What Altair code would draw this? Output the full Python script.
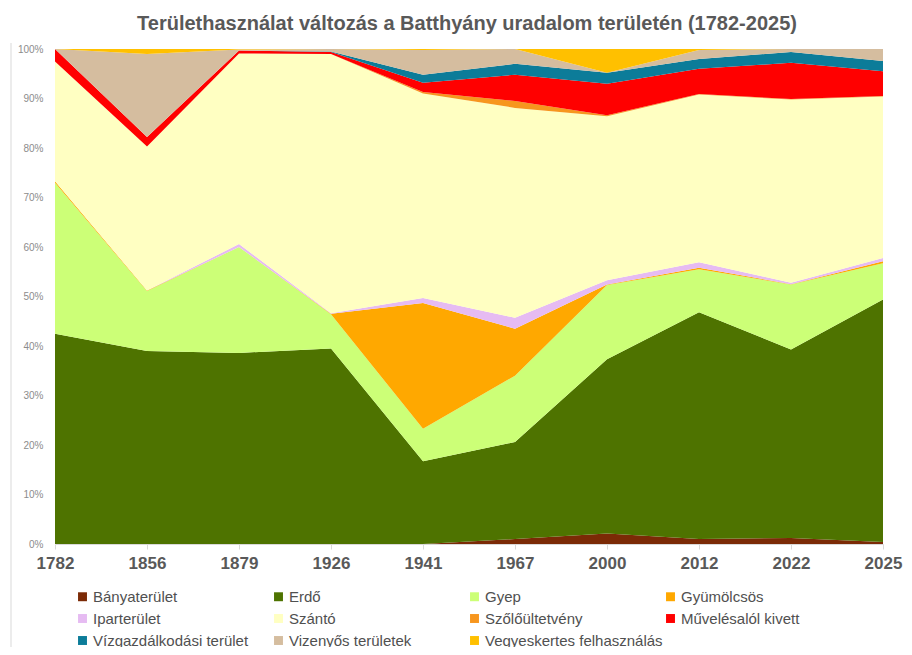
import altair as alt
import pandas as pd

years = ["1782", "1856", "1879", "1926", "1941", "1967", "2000", "2012", "2022", "2025"]

categories = [
    "Bányaterület", "Erdő", "Gyep", "Gyümölcsös",
    "Iparterület", "Szántó", "Szőlőültetvény", "Művelésalól kivett",
    "Vízgazdálkodási terület", "Vizenyős területek", "Vegyeskertes felhasználás",
]

banya = [0, 0, 0, 0, 0, 1.0, 2.1, 1.0, 1.2, 0.4]
erdo = [42.5, 39.0, 38.6, 39.5, 16.7, 19.6, 35.2, 45.8, 38.1, 49.0]
gyep = [30.5, 12.1, 21.4, 6.9, 6.6, 13.4, 15.0, 8.7, 13.1, 7.3]
gyumolcsos = [0.3, 0.1, 0, 0.1, 25.4, 9.5, 0.1, 0.3, 0.1, 0.4]
ipar = [0, 0, 0.6, 0.1, 1.0, 2.2, 0.9, 1.1, 0.3, 0.7]
szanto = [24.2, 29.1, 38.5, 52.4, 41.3, 42.4, 33.1, 33.9, 37.0, 32.6]
szolo = [0, 0, 0, 0, 0.3, 1.4, 0.2, 0.1, 0.1, 0.1]
muveles = [2.5, 1.9, 0.6, 0.4, 1.9, 5.3, 6.4, 5.1, 7.3, 5.0]
viz = [0, 0, 0, 0.1, 1.6, 2.2, 2.2, 2.0, 2.2, 2.1]
vizenyos = [0, 16.8, 0.2, 0.5, 5.0, 3.0, 0, 1.8, 0.6, 2.4]
vegyes = [0, 1.0, 0.1, 0, 0.2, 0, 4.8, 0.2, 0, 0]

series = [banya, erdo, gyep, gyumolcsos, ipar, szanto, szolo, muveles, viz, vizenyos, vegyes]

colors = [
    "#7B2A06", "#4E7300", "#CCFF77", "#FFA800",
    "#E6BBF2", "#FFFFC2", "#F7961E", "#FF0000",
    "#0C7C99", "#D5BD9F", "#FFC000",
]

rows = []
for i, (cat, vals) in enumerate(zip(categories, series)):
    for y, v in zip(years, vals):
        rows.append({"year": y, "category": cat, "value": v, "idx": i})
df = pd.DataFrame(rows)

FONT = "Liberation Sans"

area = alt.Chart(df).mark_area(interpolate="linear").encode(
    x=alt.X(
        "year:O",
        sort=years,
        scale=alt.Scale(type="point", padding=0),
        axis=alt.Axis(
            title=None,
            labelAngle=0,
            labelFont=FONT,
            labelFontSize=17,
            labelFontWeight="bold",
            labelColor="#595959",
            labelPadding=6,
            domainColor="#d9d9d9",
            tickColor="#d9d9d9",
            tickSize=5,
            grid=False,
        ),
    ),
    y=alt.Y(
        "value:Q",
        stack="normalize",
        scale=alt.Scale(domain=[0, 1]),
        axis=alt.Axis(
            title=None,
            format=".0%",
            values=[i / 10 for i in range(11)],
            labelFont=FONT,
            labelFontSize=10,
            labelColor="#8c8c8c",
            labelPadding=12,
            domain=False,
            ticks=False,
            grid=False,
        ),
    ),
    color=alt.Color(
        "category:N",
        scale=alt.Scale(domain=categories, range=colors),
        legend=alt.Legend(
            title=None,
            orient="none",
            legendX=20,
            legendY=540,
            direction="horizontal",
            columns=4,
            gridAlign="all",
            columnPadding=-1.5,
            rowPadding=6,
            symbolType="square",
            symbolSize=80,
            symbolStrokeWidth=0,
            symbolOffset=0,
            labelOffset=3,
            labelFont=FONT,
            labelFontSize=15,
            labelColor="#505050",
            labelLimit=400,
        ),
    ),
    order=alt.Order("idx:Q", sort="ascending"),
)

border = alt.Chart(pd.DataFrame({"a": [0]})).mark_rule(color="#d9d9d9", strokeWidth=1).encode(
    x=alt.value(-44), y=alt.value(-6), y2=alt.value(598)
)

chart = alt.layer(border, area).properties(
    width=828,
    height=495,
    padding={"left": 47, "top": 41, "right": 21, "bottom": 103},
    autosize="none",
    title=alt.Title(
        "Területhasználat változás a Batthyány uradalom területén (1782-2025)",
        font=FONT,
        fontSize=20,
        fontWeight="bold",
        color="#595959",
        anchor="middle",
        offset=9,
        dx=-2,
    ),
).configure_view(stroke=None)

chart.save("out.html", embed_options={"renderer": "svg", "actions": False})
